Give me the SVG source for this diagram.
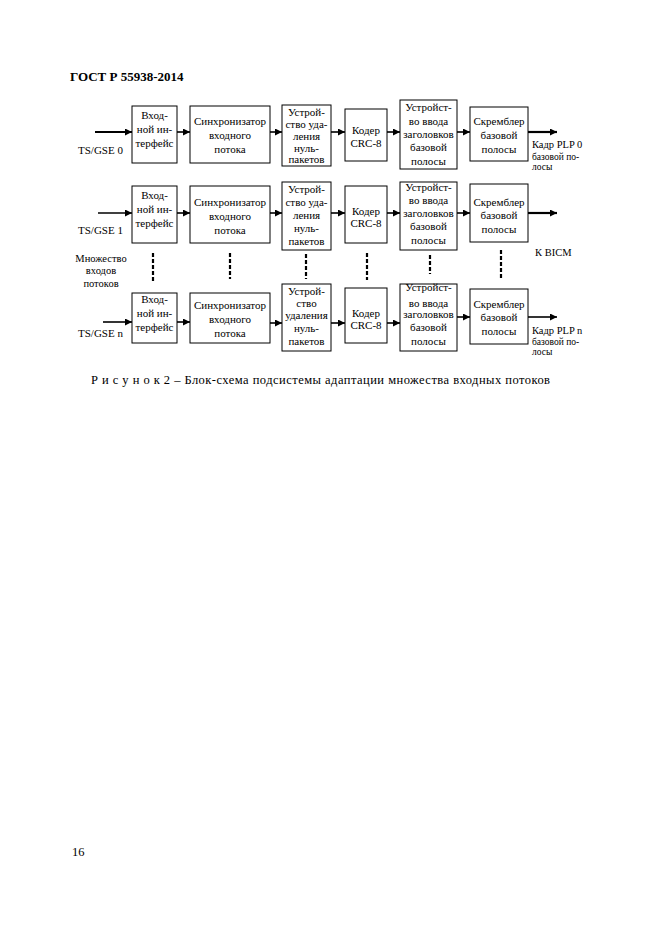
<svg xmlns="http://www.w3.org/2000/svg" width="661" height="935" viewBox="0 0 661 935">
<defs>
<marker id="ah" viewBox="0 0 10 10" refX="10" refY="5" markerWidth="8" markerHeight="7" markerUnits="userSpaceOnUse" orient="auto"><path d="M0,0 L10,5 L0,10 z" fill="#000"/></marker>
</defs>
<style>
text{font-family:"Liberation Serif","DejaVu Serif",serif;fill:#000}
.b{fill:#fff;stroke:#000;stroke-width:1}
.t{font-size:11px;text-anchor:middle}
.l{font-size:11px}
.s{font-size:9.5px}
.a{stroke:#000;stroke-width:1.6;fill:none;marker-end:url(#ah)}
.at{stroke:#000;stroke-width:2.2;fill:none;marker-end:url(#ah)}
.d{stroke:#000;stroke-width:2.2;stroke-dasharray:4 2;fill:none}
</style>
<rect width="661" height="935" fill="#fff"/>
<text x="70" y="81" style="font-size:13px;font-weight:bold">ГОСТ Р 55938-2014</text>

<g id="connectors">
<path class="at" d="M95,132H132"/>
<path class="a" d="M177,132H190"/>
<path class="a" d="M270,132H282"/>
<path class="a" d="M331,132H345"/>
<path class="a" d="M387,132H400"/>
<path class="a" d="M457,132H470"/>
<path class="at" d="M528,132H557"/>
<path class="a" d="M98,213H132"/>
<path class="a" d="M177,213H190"/>
<path class="a" d="M270,213H282"/>
<path class="a" d="M331,213H345"/>
<path class="a" d="M387,213H400"/>
<path class="a" d="M457,213H470"/>
<path class="at" d="M528,213H557"/>
<path class="a" d="M103,322H132"/>
<path class="a" d="M177,322H190"/>
<path class="a" d="M270,323H282"/>
<path class="a" d="M331,323H345"/>
<path class="a" d="M387,323H400"/>
<path class="a" d="M457,317H470"/>
<path class="a" d="M528,317H557"/>
<path class="d" d="M153,253V281"/>
<path class="d" d="M230,253V279"/>
<path class="d" d="M306,254V279"/>
<path class="d" d="M367,253V280"/>
<path class="d" d="M430,255V274"/>
<path class="d" d="M501,250V279"/>
</g>

<g id="r1b1"><rect class="b" x="132" y="106" width="45" height="57"/><text class="t" x="154.5" y="119">Вход-</text><text class="t" x="154.5" y="133">ной ин-</text><text class="t" x="154.5" y="147">терфейс</text></g>
<g id="r1b2"><rect class="b" x="190" y="106" width="80" height="57"/><text class="t" x="230" y="125">Синхронизатор</text><text class="t" x="230" y="139">входного</text><text class="t" x="230" y="153">потока</text></g>
<g id="r1b3"><rect class="b" x="282" y="105" width="49" height="61"/><text class="t" x="306.5" y="116">Устрой-</text><text class="t" x="306.5" y="128">ство уда-</text><text class="t" x="306.5" y="140">ления</text><text class="t" x="306.5" y="152">нуль-</text><text class="t" x="306.5" y="163">пакетов</text></g>
<g id="r1b4"><rect class="b" x="345" y="109" width="42" height="52"/><text class="t" x="366" y="134">Кодер</text><text class="t" x="366" y="147">CRC-8</text></g>
<g id="r1b5"><rect class="b" x="400" y="100" width="57" height="69"/><text class="t" x="428.5" y="111">Устройст-</text><text class="t" x="428.5" y="125">во ввода</text><text class="t" x="428.5" y="138">заголовков</text><text class="t" x="428.5" y="151">базовой</text><text class="t" x="428.5" y="165">полосы</text></g>
<g id="r1b6"><rect class="b" x="470" y="107" width="58" height="54"/><text class="t" x="499" y="125">Скремблер</text><text class="t" x="499" y="139">базовой</text><text class="t" x="499" y="153">полосы</text></g>
<g id="in0"><text class="l" x="78" y="154">TS/GSE 0</text></g>
<g id="out0"><text class="t" x="532" y="148" style="text-anchor:start;font-size:10.5px">Кадр PLP 0</text><text class="s" x="532" y="160">базовой по-</text><text class="s" x="532" y="170">лосы</text></g>

<g id="r2b1"><rect class="b" x="132" y="186" width="45" height="57"/><text class="t" x="154.5" y="199">Вход-</text><text class="t" x="154.5" y="213">ной ин-</text><text class="t" x="154.5" y="227">терфейс</text></g>
<g id="r2b2"><rect class="b" x="190" y="186" width="80" height="57"/><text class="t" x="230" y="206">Синхронизатор</text><text class="t" x="230" y="220">входного</text><text class="t" x="230" y="234">потока</text></g>
<g id="r2b3"><rect class="b" x="282" y="182" width="49" height="68"/><text class="t" x="306.5" y="193">Устрой-</text><text class="t" x="306.5" y="206">ство уда-</text><text class="t" x="306.5" y="219">ления</text><text class="t" x="306.5" y="232">нуль-</text><text class="t" x="306.5" y="245">пакетов</text></g>
<g id="r2b4"><rect class="b" x="345" y="186" width="42" height="57"/><text class="t" x="366" y="215">Кодер</text><text class="t" x="366" y="227">CRC-8</text></g>
<g id="r2b5"><rect class="b" x="400" y="182" width="57" height="68"/><text class="t" x="428.5" y="191">Устройст-</text><text class="t" x="428.5" y="204">во ввода</text><text class="t" x="428.5" y="217">заголовков</text><text class="t" x="428.5" y="230">базовой</text><text class="t" x="428.5" y="244">полосы</text></g>
<g id="r2b6"><rect class="b" x="470" y="184" width="58" height="58"/><text class="t" x="499" y="206">Скремблер</text><text class="t" x="499" y="219">базовой</text><text class="t" x="499" y="233">полосы</text></g>
<g id="in1"><text class="l" x="78" y="234">TS/GSE 1</text></g>
<g id="bicm"><text class="t" x="535" y="256" style="text-anchor:start;font-size:10.5px">К BICM</text></g>
<g id="many"><text class="t" x="101" y="262" style="font-size:10.5px">Множество</text><text class="t" x="101" y="274" style="font-size:10.5px">входов</text><text class="t" x="101" y="287" style="font-size:10.5px">потоков</text></g>

<g id="r3b1"><rect class="b" x="132" y="293" width="45" height="50"/><text class="t" x="154.5" y="303">Вход-</text><text class="t" x="154.5" y="317">ной ин-</text><text class="t" x="154.5" y="331">терфейс</text></g>
<g id="r3b2"><rect class="b" x="190" y="293" width="80" height="50"/><text class="t" x="230" y="309">Синхронизатор</text><text class="t" x="230" y="323">входного</text><text class="t" x="230" y="337">потока</text></g>
<g id="r3b3"><rect class="b" x="282" y="284" width="49" height="67"/><text class="t" x="306.5" y="295">Устрой-</text><text class="t" x="306.5" y="307">ство</text><text class="t" x="306.5" y="319">удаления</text><text class="t" x="306.5" y="332">нуль-</text><text class="t" x="306.5" y="345">пакетов</text></g>
<g id="r3b4"><rect class="b" x="345" y="288" width="42" height="55"/><text class="t" x="366" y="317">Кодер</text><text class="t" x="366" y="329">CRC-8</text></g>
<g id="r3b5"><rect class="b" x="400" y="284" width="57" height="67"/><text class="t" x="428.5" y="291">Устройст-</text><text class="t" x="428.5" y="307">во ввода</text><text class="t" x="428.5" y="318">заголовков</text><text class="t" x="428.5" y="331">базовой</text><text class="t" x="428.5" y="345">полосы</text></g>
<g id="r3b6"><rect class="b" x="470" y="289" width="58" height="55"/><text class="t" x="499" y="308">Скремблер</text><text class="t" x="499" y="321">базовой</text><text class="t" x="499" y="335">полосы</text></g>
<g id="inn"><text class="l" x="78" y="337">TS/GSE n</text></g>
<g id="outn"><text class="t" x="532" y="334" style="text-anchor:start;font-size:10.5px">Кадр PLP n</text><text class="s" x="532" y="345">базовой по-</text><text class="s" x="532" y="355">лосы</text></g>

<text x="91" y="384" style="font-size:12.5px" textLength="459" lengthAdjust="spacing">Р и с у н о к 2 – Блок-схема подсистемы адаптации множества входных потоков</text>
<text x="72" y="856" style="font-size:12.5px">16</text>
</svg>
